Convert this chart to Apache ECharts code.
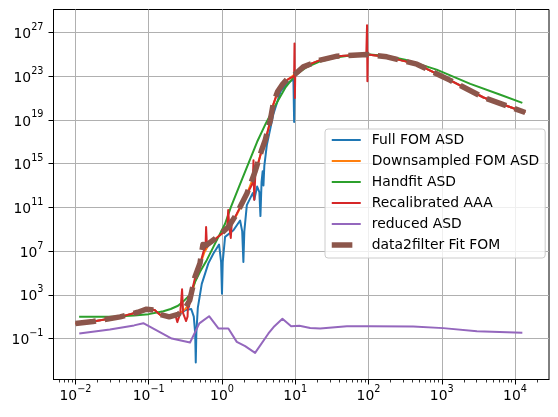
<!DOCTYPE html>
<html>
<head>
<meta charset="utf-8">
<script src="https://cdn.jsdelivr.net/npm/echarts@6/dist/echarts.min.js"></script>
<style>
  html, body { margin: 0; padding: 0; background: #fff; }
  #chart { width: 558px; height: 417px; }
</style>
</head>
<body>
<div id="chart"></div>
<script>
// all points are [log10 frequency, log10 ASD]
const fullFomAsd = [
  [-2.0, 0.38], [-1.76, 0.55], [-1.39, 0.98], [-1.15, 1.4], [-1.03, 1.68], [-0.92, 1.6],
  [-0.85, 1.2], [-0.72, 0.98], [-0.6, 1.15], [-0.5, 1.6], [-0.42, 1.7], [-0.385, 1.0],
  [-0.366, -0.5], [-0.358, -3.2], [-0.35, -0.5], [-0.33, 1.8], [-0.276, 4.0], [-0.186, 5.87],
  [-0.117, 6.78], [-0.04, 7.6], [-0.012, 6.0], [0.0, 3.1], [0.01, 6.0], [0.042, 8.3],
  [0.156, 8.9], [0.247, 9.8], [0.276, 8.8], [0.292, 6.0], [0.305, 8.8], [0.339, 11.2],
  [0.42, 12.3], [0.436, 11.9], [0.443, 11.7], [0.45, 12.0], [0.48, 12.9], [0.51, 12.4],
  [0.525, 10.2], [0.54, 13.3], [0.555, 14.3], [0.566, 13.0], [0.578, 14.8], [0.612, 16.7],
  [0.7, 19.5], [0.8, 21.6], [0.9, 22.4], [0.975, 22.7], [0.985, 18.8], [0.993, 22.8],
  [1.0, 23.2], [1.11, 23.85], [1.34, 24.47], [1.57, 24.83], [1.98, 24.99], [2.25, 24.77],
  [2.66, 24.1], [3.11, 22.64], [3.57, 21.05], [4.14, 19.68]
];
const downsampledFomAsd = [
  [-2.0, 0.38], [-1.76, 0.55], [-1.39, 0.98], [-1.15, 1.4], [-1.03, 1.68], [-0.92, 1.6],
  [-0.85, 1.2], [-0.72, 0.98], [-0.6, 1.2], [-0.5, 1.7], [-0.44, 2.3], [-0.37, 4.2],
  [-0.3, 5.7], [-0.24, 6.9], [-0.18, 7.6], [-0.09, 8.1], [0.09, 9.1], [0.2, 10.3],
  [0.34, 12.2], [0.45, 14.1], [0.54, 16.1], [0.59, 17.0], [0.66, 18.9], [0.7, 20.4],
  [0.76, 21.5], [0.82, 22.1], [0.9, 22.7], [1.0, 23.2], [1.11, 23.85], [1.34, 24.47],
  [1.57, 24.83], [1.98, 24.99], [2.25, 24.77], [2.66, 24.1], [3.11, 22.64], [3.57, 21.05],
  [4.14, 19.68]
];
const handfitAsd = [
  [-1.95, 0.98], [-1.5, 1.0], [-1.2, 1.1], [-1.0, 1.23], [-0.8, 1.5], [-0.7, 1.7],
  [-0.6, 2.0], [-0.527, 2.4], [-0.436, 3.0], [-0.367, 4.18], [-0.3, 5.1], [-0.208, 6.17],
  [-0.117, 7.38], [0.042, 9.5], [0.12, 11.0], [0.24, 13.0], [0.36, 15.0], [0.48, 17.0],
  [0.6, 18.7], [0.75, 20.6], [0.87, 22.0], [1.0, 23.1], [1.15, 23.8], [1.34, 24.35],
  [1.55, 24.7], [1.75, 24.9], [1.98, 25.0], [2.25, 24.85], [2.5, 24.5], [2.93, 23.6],
  [3.39, 22.3], [3.8, 21.3], [4.1, 20.56]
];
const recalibratedAaa = [
  [-2.0, 0.38], [-1.76, 0.55], [-1.39, 0.98], [-1.15, 1.4], [-1.03, 1.68], [-0.92, 1.6],
  [-0.85, 1.2], [-0.72, 0.98], [-0.63, 1.0], [-0.61, 0.5], [-0.57, 1.3], [-0.545, 3.5],
  [-0.53, 1.3], [-0.49, 0.6], [-0.47, 1.0], [-0.46, 2.8], [-0.45, 1.9], [-0.44, 2.5],
  [-0.37, 4.5], [-0.3, 5.8], [-0.25, 7.0], [-0.225, 7.3], [-0.217, 9.2], [-0.205, 7.4],
  [-0.09, 8.1], [0.07, 9.0], [0.085, 10.75], [0.1, 9.2], [0.12, 8.2], [0.134, 9.6],
  [0.2, 10.4], [0.34, 12.2], [0.42, 13.2], [0.43, 15.3], [0.44, 11.7], [0.455, 14.0],
  [0.54, 16.2], [0.59, 17.1], [0.66, 18.9], [0.7, 20.4], [0.76, 21.6], [0.82, 22.2],
  [0.9, 22.7], [0.985, 23.0], [0.99, 26.0], [0.995, 21.0], [1.0, 23.2], [1.11, 23.85],
  [1.34, 24.47], [1.57, 24.83], [1.97, 24.99], [1.98, 27.67], [1.985, 22.54], [1.99, 24.99],
  [2.25, 24.77], [2.66, 24.1], [3.11, 22.64], [3.57, 21.05], [4.14, 19.68]
];
const reducedAsd = [
  [-1.948, -0.54], [-1.53, -0.17], [-1.2, 0.2], [-1.074, 0.4], [-0.686, -1.0], [-0.436, -1.36],
  [-0.309, 0.38], [-0.176, 1.04], [-0.049, -0.08], [0.087, -0.08], [0.202, -1.31], [0.316, -1.7],
  [0.452, -2.31], [0.634, -0.54], [0.716, 0.13], [0.825, 0.8], [0.944, 0.13], [1.057, 0.16],
  [1.204, -0.03], [1.34, -0.08], [1.705, 0.13], [2.02, 0.13], [2.61, 0.1], [3.02, -0.05],
  [3.48, -0.33], [4.1, -0.48]
];
const data2filterFitFom = [
  [-2.0, 0.38], [-1.76, 0.55], [-1.39, 0.98], [-1.15, 1.4], [-1.03, 1.68], [-0.92, 1.6],
  [-0.85, 1.2], [-0.72, 0.98], [-0.6, 1.2], [-0.5, 1.8], [-0.44, 2.5], [-0.37, 4.6],
  [-0.3, 5.9], [-0.26, 7.6], [-0.21, 7.55], [-0.09, 8.15], [0.09, 9.22], [0.2, 10.4],
  [0.34, 12.27], [0.41, 13.5], [0.45, 14.25], [0.54, 16.2], [0.59, 17.15], [0.66, 18.98],
  [0.7, 20.5], [0.76, 21.6], [0.82, 22.2], [0.9, 22.8], [1.0, 23.2], [1.11, 23.85],
  [1.34, 24.47], [1.57, 24.83], [1.98, 24.99], [2.25, 24.77], [2.66, 24.1], [3.11, 22.64],
  [3.57, 21.05], [4.14, 19.68]
];

const seriesNames = ['Full FOM ASD', 'Downsampled FOM ASD', 'Handfit ASD', 'Recalibrated AAA', 'reduced ASD', 'data2filter Fit FOM'];
const seriesColors = ['#1f77b4', '#ff7f0e', '#2ca02c', '#d62728', '#9467bd', '#8c564b'];
const seriesData = [fullFomAsd, downsampledFomAsd, handfitAsd, recalibratedAaa, reducedAsd, data2filterFitFom];

// decade exponents for the tick labels
const xTickExps = [-2, -1, 0, 1, 2, 3, 4];
const yTickExps = [-1, 3, 7, 11, 15, 19, 23, 27];
const xRange = [-2.3, 4.464];
const yRange = [-4.75, 29.1];

// minor ticks at 2..9 x 10^n on the x axis
let xMinor = [];
for (let n = -3; n <= 4; n++) {
  for (let k = 2; k <= 9; k++) {
    let v = n + Math.log10(k);
    if (v > xRange[0] && v < xRange[1]) xMinor.push(v);
  }
}

const font = 'DejaVu Sans';
const brownDash = [20.6, 8.9];
function powLabel(v) {
  let e = Math.round(v);
  let s = e < 0 ? '\u2212' + (-e) : '' + e;
  return '{b|10}{s|' + s + '}';
}
const powRich = {
  b: { fontFamily: font, fontSize: 13.9, color: '#000', lineHeight: 16, padding: [4, 0, 0, 0] },
  s: { fontFamily: font, fontSize: 9.7, color: '#000', lineHeight: 11, padding: [0, 0, 10, 0] }
};

let chart = echarts.init(document.getElementById('chart'), null, { renderer: 'canvas' });

let series = [];
let legendData = [];
for (let i = 0; i < seriesNames.length; i++) {
  let brown = i === 5;
  let ls = {
    color: seriesColors[i],
    width: brown ? 5.5 : 2,
    type: brown ? brownDash : 'solid',
    cap: 'butt',
    join: 'round'
  };
  series.push({
    name: seriesNames[i],
    type: 'line',
    data: seriesData[i],
    symbol: 'none',
    showSymbol: false,
    animation: false,
    silent: true,
    color: seriesColors[i],
    lineStyle: ls
  });
  legendData.push({ name: seriesNames[i], lineStyle: ls });
}

chart.setOption({
  animation: false,
  backgroundColor: '#fff',
  grid: {
    left: 53.5, top: 9.5, width: 495.5, height: 370,
    show: true, borderColor: '#000', borderWidth: 1,
    outerBoundsMode: 'none', containLabel: false
  },
  legend: {
    orient: 'vertical',
    left: 325, top: 129,
    itemWidth: 29, itemHeight: 14, itemGap: 7,
    backgroundColor: 'rgba(255,255,255,0.8)',
    borderColor: '#cccccc', borderWidth: 1, borderRadius: 3,
    padding: [4, 6, 6, 4],
    itemStyle: { opacity: 0, borderWidth: 0 },
    textStyle: { fontFamily: font, fontSize: 13.9, color: '#000', padding: [0, 0, 0, 6] },
    data: legendData
  },
  xAxis: [{
    type: 'value', min: xRange[0], max: xRange[1],
    axisLine: { onZero: false, lineStyle: { color: '#000', width: 1 } },
    axisTick: { show: true, length: 5, customValues: xTickExps, lineStyle: { color: '#000', width: 1 } },
    axisLabel: { customValues: xTickExps, margin: 7, formatter: powLabel, rich: powRich },
    splitLine: { show: true, lineStyle: { color: '#b0b0b0', width: 1 } }
  }, {
    type: 'value', min: xRange[0], max: xRange[1], position: 'bottom',
    axisLine: { show: false, onZero: false },
    axisTick: { show: true, length: 3, customValues: xMinor, lineStyle: { color: '#000', width: 0.8 } },
    axisLabel: { show: false },
    splitLine: { show: false }
  }],
  yAxis: {
    type: 'value', min: yRange[0], max: yRange[1],
    axisLine: { show: true, onZero: false, lineStyle: { color: '#000', width: 1 } },
    axisTick: { show: true, length: 5, customValues: yTickExps, lineStyle: { color: '#000', width: 1 } },
    axisLabel: { customValues: yTickExps, margin: 10, formatter: powLabel, rich: powRich },
    splitLine: { show: true, lineStyle: { color: '#b0b0b0', width: 1 } }
  },
  series: series
});
</script>
</body>
</html>
